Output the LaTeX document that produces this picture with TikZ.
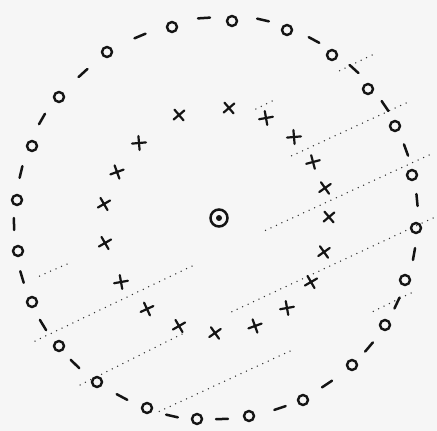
\documentclass[tikz,border=0pt]{standalone}
\begin{document}
\begin{tikzpicture}[x=1pt,y=-1pt,
  omark/.style={draw=black!92,line width=2.4pt},
  dashmark/.style={draw=black!92,line width=2.5pt,line cap=round},
  xmark/.style={draw=black!92,line width=2.2pt,line cap=round},
  dotline/.style={draw=black!80,line width=1.5pt,line cap=round,dash pattern=on 0pt off 6pt}]
\definecolor{paper}{RGB}{246,246,246}
\fill[paper] (0,0) rectangle (437,431);
\useasboundingbox (0,0) rectangle (437,431);

% dotted lines
\draw[dotline] (372,55) -- (335,73);
\draw[dotline] (272,101) -- (252,111);
\draw[dotline] (406,103) -- (287,158);
\draw[dotline] (67,264) -- (35,278);
\draw[dotline] (429,155) -- (262,232);
\draw[dotline] (192,266) -- (33,342);
\draw[dotline] (433,218) -- (227,314);
\draw[dotline] (182,334) -- (80,385);
\draw[dotline] (411,293) -- (370,313);
\draw[dotline] (290,351) -- (158,412);

% outer ring: o marks
\foreach \x/\y in {172/27,107/52,59/97,32/146,17/200,
  232/21,287/30,332/55,368/89,395/126,412/175,
  18/251,32/302,59/346,97/382,147/408,197/419,
  416/228,405/280,385/325,352/365,303/400,249/416}
  \draw[omark] (\x,\y) circle[radius=5];

% outer ring: dashes (tangent to the circle)
\foreach \x/\y in {204/18,263/20,314/40,354/69,385/106,406/150,417/200,
  414/254,397/303,369/347,327/384,280/408,222/419,172/416,122/397,
  75/364,43/325,22/277,14/224,21/172,42/119,83/73,140/36}{
  \pgfmathsetmacro\dx{\x-217}
  \pgfmathsetmacro\dy{\y-219}
  \pgfmathsetmacro\rr{veclen(\dx,\dy)}
  \pgfmathsetmacro\ax{\x+6*\dy/\rr}
  \pgfmathsetmacro\ay{\y-6*\dx/\rr}
  \pgfmathsetmacro\bx{\x-6*\dy/\rr}
  \pgfmathsetmacro\by{\y+6*\dx/\rr}
  \draw[dashmark] (\ax,\ay) -- (\bx,\by);
}

% inner ring: x marks
\foreach \x/\y/\a in {179/115/40,139/143/5,117/172/20,104/204/30,105/243/30,
  121/282/10,147/309/25,179/326/30,215/333/35,255/326/20,287/308/10,
  311/282/30,324/252/35,329/217/40,325/188/35,313/162/15,294/137/5,
  266/118/10,229/108/40}
  \draw[xmark,rotate around={\a:(\x,\y)}] (\x-7,\y) -- (\x+7,\y) (\x,\y-7) -- (\x,\y+7);

% centre mark
\draw[omark,line width=2.5pt] (219,218) coordinate (c) circle[radius=8.5];
\fill[black!92] (c) circle[radius=3];
\end{tikzpicture}
\end{document}
